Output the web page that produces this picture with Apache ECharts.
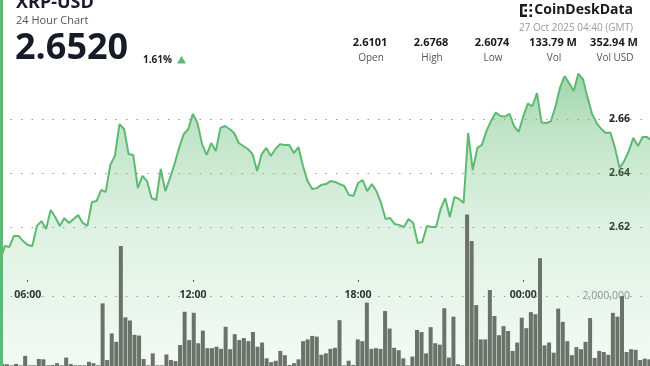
<!DOCTYPE html>
<html><head><meta charset="utf-8">
<script src="https://cdn.jsdelivr.net/npm/echarts@6/dist/echarts.min.js"></script>
<style>html,body{margin:0;padding:0;background:#fff}#c{width:650px;height:366px}</style>
</head><body><div id="c"></div>
<script>
const symbol = 'XRP-USD';
const subtitle = '24 Hour Chart';
const lastPrice = '2.6520';
const changePct = '1.61%';
const statValues = ['2.6101', '2.6768', '2.6074', '133.79 M', '352.94 M'];
const statLabels = ['Open', 'High', 'Low', 'Vol', 'Vol USD'];
const brand = 'CoinDeskData';
const stamp = '27 Oct 2025 04:40 (GMT)';

const startTime = '04:40';
const stepMinutes = 10;
const timeLabels = ['06:00', '12:00', '18:00', '00:00'];
const priceTicks = [2.62, 2.64, 2.66];
const volumeTicks = [2000000];

const prices = [
  2.6101, 2.6092, 2.6074, 2.6130, 2.6126, 2.6167, 2.6167, 2.6148, 2.6133, 2.6130,
  2.6204, 2.6222, 2.6193, 2.6263, 2.6237, 2.6204, 2.6233, 2.6215, 2.6230, 2.6244,
  2.6215, 2.6204, 2.6293, 2.6296, 2.6337, 2.6330, 2.6430, 2.6463, 2.6581, 2.6563,
  2.6470, 2.6467, 2.6344, 2.6389, 2.6370, 2.6307, 2.6300, 2.6415, 2.6333, 2.6381,
  2.6433, 2.6493, 2.6544, 2.6563, 2.6619, 2.6585, 2.6507, 2.6467, 2.6511, 2.6481,
  2.6567, 2.6574, 2.6563, 2.6548, 2.6511, 2.6500, 2.6489, 2.6470, 2.6407, 2.6470,
  2.6493, 2.6463, 2.6489, 2.6507, 2.6504, 2.6504, 2.6474, 2.6496, 2.6426, 2.6370,
  2.6341, 2.6344, 2.6356, 2.6359, 2.6370, 2.6367, 2.6359, 2.6352, 2.6319, 2.6315,
  2.6363, 2.6374, 2.6333, 2.6359, 2.6333, 2.6289, 2.6230, 2.6233, 2.6211, 2.6207,
  2.6200, 2.6230, 2.6215, 2.6141, 2.6144, 2.6204, 2.6200, 2.6200, 2.6267, 2.6307,
  2.6237, 2.6311, 2.6304, 2.6289, 2.6548, 2.6411, 2.6493, 2.6504, 2.6556, 2.6593,
  2.6624, 2.6611, 2.6609, 2.6619, 2.6574, 2.6552, 2.6609, 2.6657, 2.6648, 2.6696,
  2.6587, 2.6585, 2.6591, 2.6644, 2.6715, 2.6759, 2.6733, 2.6704, 2.6768, 2.6748,
  2.6681, 2.6619, 2.6585, 2.6563, 2.6548, 2.6550, 2.6493, 2.6419, 2.6444, 2.6481,
  2.6530, 2.6500, 2.6533, 2.6533, 2.6520
];

// volume per 10-minute bucket, in millions
const volumesM = [
  0.30, 0.20, 0.06, 0.05, 0.02, 0.06, 0.02, 0.29, 0.02, 0.02,
  0.20, 0.19, 0.02, 0.03, 0.08, 0.02, 0.24, 0.06, 0.02, 0.02,
  0.02, 0.12, 0.08, 0.02, 1.79, 0.17, 0.93, 0.69, 3.43, 1.39,
  1.30, 0.89, 0.87, 0.20, 0.02, 0.36, 0.02, 0.02, 0.33, 0.17,
  0.14, 0.60, 1.55, 0.74, 1.52, 0.65, 1.01, 0.51, 0.51, 0.55,
  0.49, 1.12, 0.48, 0.91, 0.74, 0.80, 0.71, 0.97, 0.55, 0.67,
  0.22, 0.11, 0.15, 0.43, 0.31, 0.03, 0.08, 0.19, 0.71, 0.76,
  0.86, 0.84, 0.32, 0.36, 0.49, 0.52, 1.31, 0.02, 0.15, 0.03,
  0.76, 0.71, 1.81, 0.49, 0.51, 0.49, 1.57, 1.07, 0.52, 0.45,
  0.22, 0.02, 0.27, 1.03, 0.97, 0.36, 1.11, 0.65, 0.61, 1.65,
  0.24, 1.41, 0.05, 0.02, 4.33, 3.57, 1.74, 0.76, 0.76, 2.17,
  1.43, 0.88, 1.14, 1.00, 0.43, 0.67, 1.38, 1.08, 1.54, 1.48,
  3.08, 0.59, 0.67, 0.38, 1.64, 1.26, 0.71, 0.31, 0.54, 0.48,
  0.69, 1.37, 0.23, 0.43, 0.40, 0.32, 1.52, 1.41, 2.00, 0.40,
  0.48, 0.46, 0.17, 0.21, 0.19
];

// time of each 10-minute sample over the 24h window
const times = [];
(function () {
  const p = startTime.split(':');
  const base = (+p[0]) * 60 + (+p[1]);
  for (let i = 0; i < prices.length; i++) {
    const m = (base + i * stepMinutes) % 1440;
    times.push(String(Math.floor(m / 60)).padStart(2, '0') + ':' + String(m % 60).padStart(2, '0'));
  }
})();
const priceData = prices.map((p, i) => [i, p]);
const volumeData = volumesM.map((v, k) => [k, Math.round(v * 1e6)]);
const timeTickIdx = timeLabels.map(t => times.indexOf(t));

const FONT = '"Open Sans", "Noto Sans", sans-serif';
const GREEN = '#5dba70';
const DARK = '#161b27';

const chart = echarts.init(document.getElementById('c'), null, { renderer: 'canvas' });

const graphic = [
  { type: 'rect', shape: { x: 0, y: 0, width: 3, height: 366 }, style: { fill: GREEN }, z: 100 },
  { type: 'text', x: 16, y: 3, style: { text: symbol, font: 'bold 18px ' + FONT, fill: DARK, verticalAlign: 'middle' } },
  { type: 'text', x: 16, y: 21, style: { text: subtitle, font: '11px ' + FONT, fill: '#555', verticalAlign: 'middle' } },
  { type: 'text', x: 15, y: 49, style: { text: lastPrice, font: 'bold 36px ' + FONT, fill: DARK, verticalAlign: 'middle' } },
  { type: 'text', x: 143, y: 60, style: { text: changePct, font: 'bold 10px ' + FONT, fill: '#222', verticalAlign: 'middle' } },
  { type: 'polygon', shape: { points: [[177, 63.5], [186, 63.5], [181.5, 56]] }, style: { fill: GREEN } },
  { type: 'text', x: 633, y: 10, style: { text: brand, font: 'bold 14px ' + FONT, fill: '#1a1a1a', align: 'right', verticalAlign: 'middle' } },
  { type: 'text', x: 633, y: 28, style: { text: stamp, font: '10px ' + FONT, fill: '#9a9a9a', align: 'right', verticalAlign: 'middle' } },
  // logo mark
  { type: 'rect', shape: { x: 520, y: 4, width: 2.5, height: 13 }, style: { fill: '#1a1a1a' } },
  { type: 'rect', shape: { x: 520, y: 4, width: 7, height: 2.5 }, style: { fill: '#1a1a1a' } },
  { type: 'rect', shape: { x: 520, y: 14.5, width: 7, height: 2.5 }, style: { fill: '#1a1a1a' } },
  { type: 'rect', shape: { x: 524.5, y: 9.2, width: 2.5, height: 2.5 }, style: { fill: '#1a1a1a' } },
  { type: 'rect', shape: { x: 529.5, y: 4, width: 2.5, height: 2.5 }, style: { fill: '#1a1a1a' } },
  { type: 'rect', shape: { x: 529.5, y: 9.2, width: 2.5, height: 2.5 }, style: { fill: '#1a1a1a' } },
  { type: 'rect', shape: { x: 529.5, y: 14.5, width: 2.5, height: 2.5 }, style: { fill: '#1a1a1a' } }
];
statValues.forEach((v, k) => {
  graphic.push({ type: 'text', x: 370 + 61 * k, y: 43, style: { text: v, font: 'bold 11px ' + FONT, fill: '#1a1a1a', align: 'center', verticalAlign: 'middle' } });
  graphic.push({ type: 'text', x: 371 + 61 * k, y: 58, style: { text: statLabels[k], font: '10px ' + FONT, fill: '#555', align: 'center', verticalAlign: 'middle' } });
});

const dotted = { color: '#9a9a9a', width: 1, type: [1.5, 9] };
const hidden = { axisLine: { show: false }, axisTick: { show: false }, axisLabel: { show: false }, splitLine: { show: false } };
// visible window in sample units (line) and bucket units (bars)
const lineMin = 1.96, lineMax = 143.63;
const barMin = 1.475, barMax = 144.15;

chart.setOption({
  animation: false,
  backgroundColor: '#ffffff',
  graphic: graphic,
  grid: [
    { left: 0, right: 0, top: 65, bottom: 0 },
    { left: 0, right: 0, top: 156, bottom: 0 }
  ],
  xAxis: [
    Object.assign({ type: 'value', gridIndex: 0, min: lineMin, max: lineMax }, hidden),
    Object.assign({ type: 'value', gridIndex: 1, min: barMin, max: barMax, position: 'top' }, hidden),
    {
      type: 'value', gridIndex: 1, min: lineMin, max: lineMax, offset: -86, position: 'bottom',
      axisLine: { show: false },
      axisTick: { show: true, customValues: timeTickIdx, length: 2, lineStyle: { color: '#444', width: 1 } },
      axisLabel: { show: true, customValues: timeTickIdx, formatter: v => times[Math.round(v)], margin: 10, color: '#222', fontWeight: 'bold', fontSize: 10.5, fontFamily: FONT },
      splitLine: { show: false }
    }
  ],
  yAxis: [
    {
      type: 'value', gridIndex: 0, position: 'right', min: 2.56852, max: 2.68,
      axisLine: { show: false }, axisTick: { show: false }, splitLine: { show: false },
      axisLabel: { inside: true, margin: 20, customValues: priceTicks, formatter: v => v.toFixed(2), color: '#222', fontWeight: 'bold', fontSize: 10.5, fontFamily: FONT }
    },
    {
      type: 'value', gridIndex: 1, position: 'right', min: 0, max: 6000000,
      axisLine: { show: false }, axisTick: { show: false }, splitLine: { show: false },
      axisLabel: { inside: true, margin: 20, customValues: volumeTicks, formatter: v => Number(v).toLocaleString('en-US'), color: '#8f8f8f', fontSize: 10.5, fontFamily: FONT }
    }
  ],
  series: [
    {
      type: 'line', xAxisIndex: 0, yAxisIndex: 0, data: priceData,
      symbol: 'none', smooth: false, z: 2, clip: true,
      lineStyle: { color: GREEN, width: 2 },
      areaStyle: {
        origin: 'start',
        color: new echarts.graphic.LinearGradient(0, 0, 0, 1, [
          { offset: 0, color: 'rgba(93,186,112,0.85)' },
          { offset: 0.2, color: 'rgba(93,186,112,0.55)' },
          { offset: 0.5, color: 'rgba(93,186,112,0.3)' },
          { offset: 1, color: 'rgba(93,186,112,0.1)' }
        ])
      },
      markLine: {
        silent: true, symbol: 'none', label: { show: false },
        lineStyle: dotted,
        data: priceTicks.map(t => ({ yAxis: t }))
      }
    },
    {
      type: 'bar', xAxisIndex: 1, yAxisIndex: 1, data: volumeData, barWidth: 4, z: 3, clip: true,
      itemStyle: { color: '#6b7269' },
      markLine: {
        silent: true, symbol: 'none', label: { show: false },
        lineStyle: dotted,
        data: volumeTicks.map(t => ({ yAxis: t }))
      }
    }
  ]
});
</script>
</body></html>
